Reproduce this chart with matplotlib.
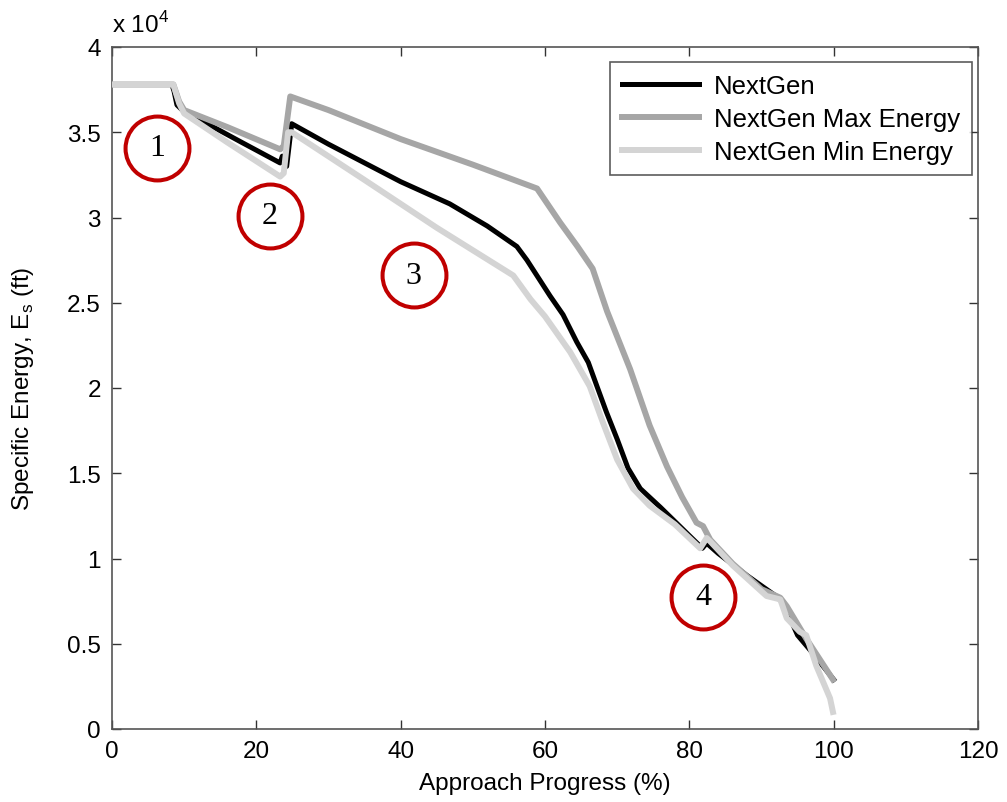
import matplotlib
matplotlib.use("Agg")
import matplotlib.pyplot as plt
from matplotlib.ticker import FuncFormatter, MultipleLocator

plt.rcParams['font.family'] = ['Liberation Sans', 'DejaVu Sans']

# ---- data (x in %, y in units of 1e4 ft) ----
nextgen_x = [0, 8.3, 8.6, 9.0, 10.0, 13.2, 18, 23.3, 23.6, 24.2, 24.9, 30, 35, 40, 46.8,
             52, 56.1, 57.5, 60.7, 62.5, 64.4, 66, 67.2, 68.5, 70.0, 71.5, 73.2, 76, 80.1,
             81.8, 82.4, 84, 88, 92, 93, 95, 97, 100]
nextgen_y = [3.78, 3.78, 3.74, 3.66, 3.62, 3.55, 3.44, 3.32, 3.36, 3.30, 3.55, 3.43, 3.32, 3.21, 3.08,
             2.95, 2.83, 2.75, 2.54, 2.43, 2.27, 2.15, 2.01, 1.86, 1.70, 1.53, 1.41, 1.30, 1.13,
             1.06, 1.09, 1.03, 0.90, 0.78, 0.74, 0.55, 0.45, 0.29]

max_x = [0, 8.5, 9.3, 10.0, 16, 23.3, 23.8, 24.7, 30, 40, 50, 58.9, 62.1, 64.5, 66.6,
         68.6, 71.8, 74.5, 76.9, 79, 81.0, 81.9, 82.9, 86, 90, 92.6, 93.5, 96.2, 99.9]
max_y = [3.78, 3.78, 3.68, 3.63, 3.53, 3.40, 3.42, 3.71, 3.63, 3.46, 3.31, 3.17, 2.97, 2.83, 2.70,
         2.45, 2.11, 1.78, 1.54, 1.36, 1.21, 1.19, 1.11, 0.97, 0.82, 0.77, 0.72, 0.53, 0.29]

min_x = [0, 8.5, 9.3, 10.0, 16, 23.3, 23.8, 24.4, 24.9, 35, 45, 55.6, 58, 60, 63.5, 66.2,
         68, 70, 72.2, 74.5, 78, 81.5, 82.4, 82.9, 86, 90.7, 92.6, 93.5, 95.3, 96.2, 97.6,
         99.5, 99.9]
min_y = [3.78, 3.78, 3.67, 3.61, 3.44, 3.24, 3.26, 3.50, 3.50, 3.22, 2.94, 2.66, 2.52, 2.42, 2.21, 2.01,
         1.80, 1.58, 1.41, 1.31, 1.20, 1.06, 1.12, 1.10, 0.96, 0.78, 0.76, 0.65, 0.57, 0.55, 0.37,
         0.18, 0.10]

labels = ['NextGen', 'NextGen Max Energy', 'NextGen Min Energy']
marker_x = [6.3, 21.9, 41.8, 81.9]
marker_y = [3.41, 3.01, 2.66, 0.777]
marker_text = ['1', '2', '3', '4']
scale = 1e4

fig = plt.figure(figsize=(10.07, 8.03), dpi=100)
ax = fig.add_axes([112/1007, 73/803, 866/1007, 682/803])

ax.plot(nextgen_x, [v*scale for v in nextgen_y], color='black', lw=3.6, label=labels[0],
        solid_joinstyle='round', zorder=3)
ax.plot(max_x, [v*scale for v in max_y], color='#a6a6a6', lw=4.3, label=labels[1],
        solid_joinstyle='round', zorder=4)
ax.plot(min_x, [v*scale for v in min_y], color='#d4d4d4', lw=4.3, label=labels[2],
        solid_joinstyle='round', zorder=5)

for mx, my, mt in zip(marker_x, marker_y, marker_text):
    ax.plot([mx], [my*scale], marker='o', ms=46, mfc='white', mec='#c00000', mew=2.9,
            ls='none', zorder=6)
    ax.text(mx, my*scale, mt, ha='center', va='center', fontsize=23,
            family='Liberation Serif', color='black', zorder=7)

ax.set_xlim(0, 120)
ax.set_ylim(0, 4*scale)
ax.xaxis.set_major_locator(MultipleLocator(20))
ax.yaxis.set_major_locator(MultipleLocator(0.5*scale))
ax.yaxis.set_major_formatter(FuncFormatter(lambda v, p: '%g' % (v/scale)))

ax.tick_params(direction='in', length=6.5, width=1, top=True, right=True,
               labelsize=17.5, colors='#333333', labelcolor='black', pad=8)
for s in ax.spines.values():
    s.set_color('#555555')
    s.set_linewidth(1.2)

ax.set_xlabel('Approach Progress (%)', fontsize=17.5, labelpad=7)
ax.set_ylabel('Specific Energy, E$_\\mathregular{s}$ (ft)', fontsize=17.5, labelpad=22)
fig.text(112/1007, 1-33/803, 'x 10$^\\mathregular{4}$', fontsize=17.5, va='baseline', ha='left')

leg = ax.legend(loc='upper right', bbox_to_anchor=(0.993, 0.978), fontsize=18.5,
                frameon=True, fancybox=False, edgecolor='#333333', handlelength=3.0,
                borderpad=0.45, labelspacing=0.35, handletextpad=0.6, borderaxespad=0)
leg.get_frame().set_linewidth(1.2)

fig.savefig('out.png', dpi=100)
